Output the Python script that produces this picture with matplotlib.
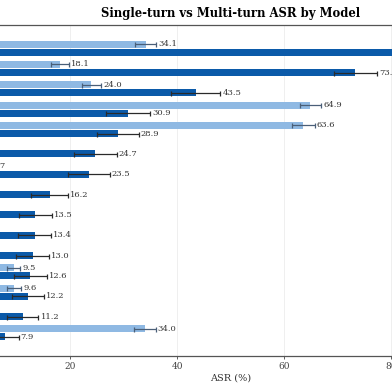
import matplotlib
matplotlib.use("Agg")
import matplotlib.pyplot as plt
import numpy as np

plt.rcParams['font.family'] = ['DejaVu Serif']

models = ["Model A", "Model B", "Model C", "Model D", "Model E", "Model F", "Model G",
          "Model H", "Model I", "Model J", "Model K", "Model L", "Model M", "Model N", "Model O"]
single_turn = [34.1, 18.1, 24.0, 64.9, 63.6, 1.0, 2.7, 0.8, 0.5, 0.5, 0.4, 9.5, 9.6, 0.6, 34.0]
single_err = [2.0, 1.7, 1.8, 2.0, 2.1, 0.8, 2.4, 0.7, 0.5, 0.5, 0.4, 1.25, 1.3, 0.5, 2.0]
multi_turn = [86.4, 73.3, 43.5, 30.9, 28.9, 24.7, 23.5, 16.2, 13.5, 13.4, 13.0, 12.6, 12.2, 11.2, 7.9]
multi_err = [4.0, 4.0, 4.6, 4.1, 3.9, 4.0, 3.9, 3.4, 3.1, 3.1, 3.0, 3.1, 3.0, 2.9, 2.5]
series_names = ["Single-turn", "Multi-turn"]

light = "#8fb9e3"
dark = "#0b5aa9"

fig = plt.figure(figsize=(3.92, 3.92), dpi=100)
ax = fig.add_axes([-37.1 / 392, 1 - 356 / 392, 535.5 / 392, 331 / 392])

y = np.arange(len(models))
h = 0.35
off = 0.2
ax.barh(y - off, single_turn, height=h, color=light, label=series_names[0], zorder=2)
ax.barh(y + off, multi_turn, height=h, color=dark, label=series_names[1], zorder=2)
ax.errorbar(single_turn, y - off, xerr=single_err, fmt='none', ecolor='#4a5f78',
            elinewidth=0.9, capsize=1.8, capthick=0.9, zorder=3)
ax.errorbar(multi_turn, y + off, xerr=multi_err, fmt='none', ecolor='#2a2a2a',
            elinewidth=0.9, capsize=1.8, capthick=0.9, zorder=3)

for v, e, yy in zip(single_turn, single_err, y - off):
    ax.text(v + e + 0.4, yy, f"{v:.1f}", va='center', ha='left', fontsize=6, color='#333333')
for v, e, yy in zip(multi_turn, multi_err, y + off):
    ax.text(v + e + 0.4, yy, f"{v:.1f}", va='center', ha='left', fontsize=6, color='#333333')

ax.set_yticks(y)
ax.set_yticklabels(models, fontsize=7)
ax.set_xlim(0, 100)
ax.set_ylim(len(models) - 1 + 1.14, -1.14)
ax.set_xticks([0, 20, 40, 60, 80, 100])
ax.tick_params(axis='x', labelsize=6.5, length=2.5, width=0.6, colors='#444444', pad=2)
ax.tick_params(axis='y', length=0)
ax.xaxis.grid(True, color='#ececec', linewidth=0.6, zorder=0)
ax.set_axisbelow(True)
for s in ax.spines.values():
    s.set_color('#555555')
    s.set_linewidth(0.9)
ax.set_xlabel("ASR (%)", fontsize=7, color='#333333', labelpad=2)
ax.set_title("Single-turn vs Multi-turn ASR by Model", fontsize=8.4, fontweight='bold', pad=6)

fig.savefig("out.png", dpi=100)
